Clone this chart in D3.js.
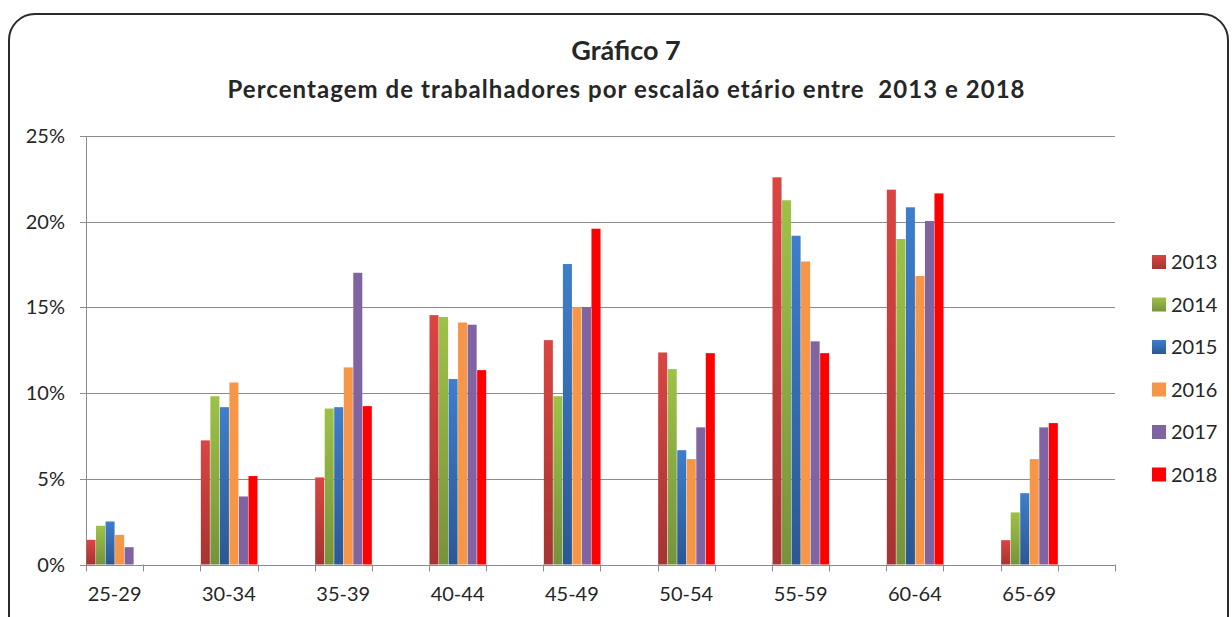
<!DOCTYPE html>
<html lang="pt">
<head>
<meta charset="UTF-8">
<script src="https://d3js.org/d3.v7.min.js"></script>
<style>
  body { margin: 0; background: #fff; }
  text { font-family: Lato, "Open Sans", sans-serif; fill: #262626; }
</style>
</head>
<body>
<div id="chart"></div>
<script>
// Data
const categories = ["25-29", "30-34", "35-39", "40-44", "45-49", "50-54", "55-59", "60-64", "65-69"];
const years = ["2013", "2014", "2015", "2016", "2017", "2018"];
const v2013 = [1.44, 7.24, 5.08, 14.55, 13.09, 12.37, 22.59, 21.87, 1.42];
const v2014 = [2.26, 9.82, 9.10, 14.44, 9.82, 11.40, 21.25, 18.99, 3.04];
const v2015 = [2.51, 9.18, 9.18, 10.82, 17.53, 6.67, 19.18, 20.84, 4.16];
const v2016 = [1.73, 10.62, 11.50, 14.12, 15.02, 6.15, 17.68, 16.83, 6.15];
const v2017 = [1.01, 3.97, 17.02, 13.99, 15.02, 8.00, 13.02, 20.04, 8.00];
const v2018 = [0, 5.16, 9.24, 11.34, 19.59, 12.33, 12.33, 21.65, 8.25];
const yTicks = [0, 5, 10, 15, 20, 25];

const seriesValues = [v2013, v2014, v2015, v2016, v2017, v2018];
const colors = ["#C0504D", "#9BBB59", "#4F81BD", "#F79646", "#8064A2", "#FF0000"];
const gradTop = ["#DA4542", "#9DC247", "#3E7ECB", "#F79646", "#8064A2", "#FF0000"];
const gradBot = ["#A53432", "#76933B", "#2B5894", "#F79646", "#8064A2", "#FF0000"];

const width = 1232, height = 617;
const plot = { left: 86, right: 1115, top: 136, bottom: 564.5 };

const svg = d3.select("#chart").append("svg")
  .attr("width", width)
  .attr("height", height);

// gradients
const defs = svg.append("defs");
years.forEach((y, i) => {
  const g = defs.append("linearGradient")
    .attr("id", "grad" + y)
    .attr("x1", 0).attr("y1", 0).attr("x2", 0).attr("y2", 1);
  g.append("stop").attr("offset", "0%").attr("stop-color", gradTop[i]);
  g.append("stop").attr("offset", "100%").attr("stop-color", gradBot[i]);
});

// frame
svg.append("rect")
  .attr("x", 9).attr("y", 14)
  .attr("width", 1219).attr("height", 640)
  .attr("rx", 26)
  .attr("fill", "#fff")
  .attr("stroke", "#2b2b2b")
  .attr("stroke-width", 2);

// titles
svg.append("text")
  .attr("x", 626).attr("y", 60)
  .attr("text-anchor", "middle")
  .attr("font-size", 27).attr("font-weight", 700)
  .text("Gráfico 7");
svg.append("text")
  .attr("x", 626).attr("y", 98)
  .attr("text-anchor", "middle")
  .attr("font-size", 24).attr("font-weight", 700)
  .attr("textLength", 797)
  .attr("lengthAdjust", "spacing")
  .attr("xml:space", "preserve")
  .text("Percentagem de trabalhadores por escalão etário entre  2013 e 2018");

// scales
const x0 = d3.scaleBand()
  .domain(categories)
  .range([plot.left, plot.right])
  .paddingInner(0).paddingOuter(0);

const x1 = d3.scaleBand()
  .domain(years)
  .range([0, x0.bandwidth() / 2]);

const y = d3.scaleLinear()
  .domain([0, 25])
  .range([plot.bottom, plot.top]);

// gridlines
svg.append("g")
  .selectAll("line")
  .data(yTicks)
  .join("line")
  .attr("x1", plot.left - 6).attr("x2", plot.right)
  .attr("y1", d => Math.round(y(d)) + 0.5)
  .attr("y2", d => Math.round(y(d)) + 0.5)
  .attr("stroke", "#8c8c8c")
  .attr("stroke-width", 1);

// y axis line
svg.append("line")
  .attr("x1", plot.left + 0.5).attr("x2", plot.left + 0.5)
  .attr("y1", plot.top).attr("y2", plot.bottom + 6)
  .attr("stroke", "#8c8c8c");

// y labels
svg.append("g")
  .selectAll("text")
  .data(yTicks)
  .join("text")
  .attr("x", 65)
  .attr("y", d => y(d))
  .attr("dy", "0.35em")
  .attr("text-anchor", "end")
  .attr("font-size", 20)
  .text(d => d + "%");

// x ticks: at each band start and mid
const tickPos = [];
categories.forEach(c => {
  tickPos.push(x0(c));
  tickPos.push(x0(c) + x0.bandwidth() / 2);
});
tickPos.push(plot.right);
svg.append("g")
  .selectAll("line")
  .data(tickPos)
  .join("line")
  .attr("x1", d => Math.round(d) + 0.5).attr("x2", d => Math.round(d) + 0.5)
  .attr("y1", plot.bottom).attr("y2", plot.bottom + 7)
  .attr("stroke", "#8c8c8c");

// bars
const barData = [];
categories.forEach((c, ci) => {
  years.forEach((yr, si) => {
    barData.push({ cat: c, year: yr, si: si, value: seriesValues[si][ci] });
  });
});

svg.append("g")
  .selectAll("rect")
  .data(barData.filter(d => d.value > 0))
  .join("rect")
  .attr("x", d => x0(d.cat) + x1(d.year) + 0.5)
  .attr("y", d => y(d.value))
  .attr("width", x1.bandwidth() - 0.5)
  .attr("height", d => y(0) - y(d.value))
  .attr("fill", d => d.si < 3 ? `url(#grad${d.year})` : colors[d.si]);

// x labels
svg.append("g")
  .selectAll("text")
  .data(categories)
  .join("text")
  .attr("x", d => x0(d) + x0.bandwidth() / 4)
  .attr("y", 601)
  .attr("text-anchor", "middle")
  .attr("font-size", 20)
  .text(d => d);

// legend
const legend = svg.append("g")
  .selectAll("g")
  .data(years)
  .join("g")
  .attr("transform", (d, i) => `translate(1152, ${262 + i * 42.5})`);
legend.append("rect")
  .attr("x", 0).attr("y", -7)
  .attr("width", 14).attr("height", 14)
  .attr("fill", (d, i) => i < 3 ? `url(#grad${d})` : colors[i]);
legend.append("text")
  .attr("x", 19).attr("y", 0)
  .attr("dy", "0.36em")
  .attr("font-size", 20)
  .text(d => d);
</script>
</body>
</html>
